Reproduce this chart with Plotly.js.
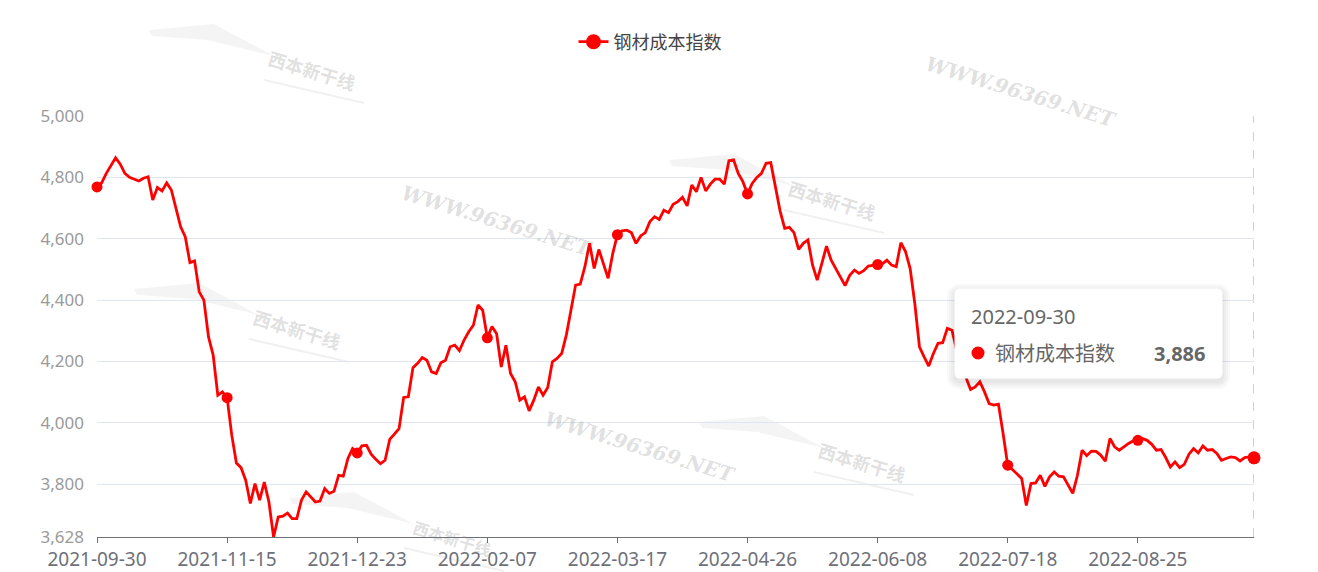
<!DOCTYPE html>
<html>
<head>
<meta charset="utf-8">
<script src="https://cdn.plot.ly/plotly-3.0.1.min.js"></script>
<style>
  html, body { margin: 0; padding: 0; background: #ffffff; }
  #chart { width: 1318px; height: 572px; }
</style>
</head>
<body>
<div id="chart"></div>
<script>
// ---- data ----
const seriesName = '钢材成本指数';
const tickLabels = ['2021-09-30', '2021-11-15', '2021-12-23', '2022-02-07', '2022-03-17',
                    '2022-04-26', '2022-06-08', '2022-07-18', '2022-08-25'];
const lastDate = '2022-09-30';
const values = [
  4769, 4782, 4813, 4837, 4864, 4843, 4813, 4800, 4795, 4788,
  4797, 4802, 4726, 4767, 4756, 4782, 4759, 4699, 4639, 4606,
  4522, 4528, 4427, 4400, 4280, 4221, 4090, 4101, 4082, 3960,
  3869, 3854, 3813, 3737, 3802, 3748, 3807, 3742, 3628, 3693,
  3696, 3706, 3688, 3688, 3748, 3775, 3757, 3742, 3745, 3786,
  3770, 3777, 3829, 3826, 3884, 3916, 3902, 3925, 3927, 3898,
  3881, 3867, 3878, 3946, 3963, 3981, 4083, 4085, 4180, 4194,
  4213, 4204, 4166, 4161, 4196, 4204, 4248, 4253, 4235, 4270,
  4297, 4318, 4384, 4367, 4277, 4314, 4290, 4182, 4253, 4161,
  4134, 4074, 4085, 4039, 4074, 4117, 4090, 4115, 4199, 4210,
  4226, 4286, 4367, 4449, 4452, 4509, 4585, 4503, 4565, 4520,
  4471, 4552, 4613, 4626, 4628, 4620, 4585, 4609, 4620, 4656,
  4672, 4663, 4693, 4685, 4712, 4721, 4735, 4707, 4775, 4753,
  4800, 4756, 4778, 4794, 4794, 4778, 4854, 4857, 4813, 4786,
  4746, 4780, 4800, 4813, 4846, 4848, 4769, 4691, 4634, 4637,
  4620, 4565, 4585, 4596, 4514, 4465, 4520, 4576, 4530, 4503,
  4476, 4447, 4481, 4498, 4487, 4496, 4511, 4514, 4516, 4518,
  4530, 4514, 4509, 4587, 4558, 4503, 4389, 4248, 4215, 4185,
  4226, 4259, 4261, 4308, 4302, 4237, 4188, 4150, 4109, 4117,
  4134, 4101, 4063, 4058, 4061, 3965, 3862, 3848, 3835, 3819,
  3731, 3802, 3804, 3829, 3793, 3824, 3840, 3826, 3824, 3797,
  3770, 3829, 3911, 3893, 3908, 3907, 3895, 3875, 3949, 3922,
  3911, 3922, 3933, 3941, 3943, 3949, 3943, 3930, 3911, 3913,
  3887, 3856, 3873, 3854, 3865, 3898, 3916, 3902, 3925, 3911,
  3913, 3900, 3878, 3884, 3889, 3887, 3876, 3887, 3889, 3886
];
const yTicks = [3628, 3800, 4000, 4200, 4400, 4600, 4800, 5000];

// ---- config ----
const labelStep = 28;          // one axis label (and one symbol) every 28 points
const RED = '#ff0000';
const FONT = '"Noto Sans", "Noto Sans CJK SC", sans-serif';
const W = 1318, H = 572;
const M = {l: 97, r: 64, t: 116, b: 35};
const plotW = W - M.l - M.r, plotH = H - M.t - M.b;
const px = v => (v - M.l) / plotW;          // pixel -> paper x
const py = v => (H - M.b - v) / plotH;      // pixel -> paper y

const n = values.length;
const xs = values.map((_, i) => i);
const markIdx = xs.filter(i => i % labelStep === 0);
const fmt = v => v.toLocaleString('en-US');

const traces = [
  { x: xs, y: values, type: 'scatter', mode: 'lines', showlegend: false,
    line: {color: RED, width: 2.8}, hoverinfo: 'skip', cliponaxis: false },
  { x: markIdx, y: markIdx.map(i => values[i]), type: 'scatter', mode: 'markers',
    showlegend: false, marker: {color: RED, size: 11}, hoverinfo: 'skip', cliponaxis: false },
  { x: [n - 1], y: [values[n - 1]], type: 'scatter', mode: 'markers',
    showlegend: false, marker: {color: RED, size: 13}, hoverinfo: 'skip', cliponaxis: false },
  { x: [null], y: [null], type: 'scatter', mode: 'lines+markers', name: seriesName,
    line: {color: RED, width: 2.8}, marker: {color: RED, size: 15} }
];

// tooltip box (pixel geometry -> paper)
function roundRect(x0, y0, x1, y1, r) {
  const X = px, Y = py;
  const k = 0.45;
  return `M${X(x0 + r)},${Y(y0)} L${X(x1 - r)},${Y(y0)} ` +
    `C${X(x1 - r * k)},${Y(y0)} ${X(x1)},${Y(y0 + r * k)} ${X(x1)},${Y(y0 + r)} ` +
    `L${X(x1)},${Y(y1 - r)} C${X(x1)},${Y(y1 - r * k)} ${X(x1 - r * k)},${Y(y1)} ${X(x1 - r)},${Y(y1)} ` +
    `L${X(x0 + r)},${Y(y1)} C${X(x0 + r * k)},${Y(y1)} ${X(x0)},${Y(y1 - r * k)} ${X(x0)},${Y(y1 - r)} ` +
    `L${X(x0)},${Y(y0 + r)} C${X(x0)},${Y(y0 + r * k)} ${X(x0 + r * k)},${Y(y0)} ${X(x0 + r)},${Y(y0)} Z`;
}
function poly(pts) {
  return 'M' + pts.map(([x, y]) => `${px(x)},${py(y)}`).join(' L') + ' Z';
}
const tip = {x0: 955, y0: 289, x1: 1222, y1: 378};
const shapes = [
  { type: 'line', xref: 'x', yref: 'paper', x0: n - 1, x1: n - 1, y0: 0, y1: 1,
    line: {color: '#a0a0a0', width: 1, dash: 'dash'}, layer: 'below' }
];

// watermark logos (swoosh + name) and site text
const wmColor = 'rgba(120,120,120,0.24)';
const annotations = [];
const logoCenters = [[312, 70, 18], [297, 329, 18], [832, 200, 18], [862, 462, 18], [452, 538, 16]];
logoCenters.forEach(([cx, cy, fs]) => {
  shapes.push({ type: 'path', xref: 'paper', yref: 'paper', layer: 'below',
    path: poly([[cx - 163, cy - 40], [cx - 98, cy - 46], [cx - 38, cy - 14], [cx - 105, cy - 30], [cx - 160, cy - 34]]),
    fillcolor: 'rgba(0,0,0,0.045)', line: {width: 0} });
  shapes.push({ type: 'line', xref: 'paper', yref: 'paper', layer: 'below',
    x0: px(cx - 48), y0: py(cy + 10), x1: px(cx + 52), y1: py(cy + 33),
    line: {color: 'rgba(0,0,0,0.06)', width: 2} });
  annotations.push({ xref: 'paper', yref: 'paper', x: px(cx), y: py(cy), xanchor: 'center', yanchor: 'middle',
    showarrow: false, text: '西本新干线', textangle: 17, borderpad: 0,
    font: {family: '"Noto Sans CJK SC", sans-serif', size: fs, color: wmColor, weight: 'bold'} });
});
[[1021, 92], [497, 221], [640, 447]].forEach(([x, y]) => {
  annotations.push({ xref: 'paper', yref: 'paper', x: px(x), y: py(y), xanchor: 'center', yanchor: 'middle',
    showarrow: false, text: 'WWW.96369.NET', textangle: 17,
    font: {family: '"DejaVu Serif", serif', size: 20, color: wmColor, style: 'italic', weight: 'bold'} });
});

// tooltip
[8, 6, 4, 2].forEach(e => {
  shapes.push({ type: 'path', xref: 'paper', yref: 'paper',
    path: roundRect(tip.x0 - e, tip.y0 - e + 3, tip.x1 + e, tip.y1 + e + 3, 4 + e),
    fillcolor: 'rgba(0,0,0,0.025)', line: {width: 0} });
});
shapes.push({ type: 'path', xref: 'paper', yref: 'paper',
  path: roundRect(tip.x0, tip.y0, tip.x1, tip.y1, 4),
  fillcolor: '#ffffff', line: {color: '#ffffff', width: 1} });
shapes.push({ type: 'circle', xref: 'paper', yref: 'paper',
  x0: px(971.5), x1: px(984.5), y0: py(359.5), y1: py(346.5),
  fillcolor: RED, line: {width: 0} });
annotations.push({ xref: 'paper', yref: 'paper', x: px(969), y: py(316), xanchor: 'left', yanchor: 'middle',
  showarrow: false, text: lastDate, font: {family: FONT, size: 20, color: '#666'} });
annotations.push({ xref: 'paper', yref: 'paper', x: px(993), y: py(353), xanchor: 'left', yanchor: 'middle',
  showarrow: false, text: seriesName, font: {family: FONT, size: 20, color: '#666'} });
annotations.push({ xref: 'paper', yref: 'paper', x: px(1207), y: py(353), xanchor: 'right', yanchor: 'middle',
  showarrow: false, text: '<b>' + fmt(values[n - 1]) + '</b>', font: {family: FONT, size: 20, color: '#666'} });

const layout = {
  width: W, height: H,
  margin: M,
  paper_bgcolor: '#ffffff', plot_bgcolor: '#ffffff',
  font: {family: FONT},
  showlegend: true,
  legend: { orientation: 'h', x: px(650), xanchor: 'center', y: py(42), yanchor: 'middle',
    font: {family: FONT, size: 18, color: '#444'}, bgcolor: 'rgba(0,0,0,0)' },
  xaxis: {
    range: [0, n - 1], tickmode: 'array',
    tickvals: tickLabels.map((_, k) => k * labelStep), ticktext: tickLabels,
    showgrid: false, zeroline: false, showline: true, linecolor: '#6E7079', linewidth: 1,
    ticks: 'outside', ticklen: 5, tickcolor: '#6E7079',
    tickfont: {family: FONT, size: 19, color: '#6E7079'}, fixedrange: true
  },
  yaxis: {
    range: [yTicks[0], yTicks[yTicks.length - 1]], tickmode: 'array',
    tickvals: yTicks, ticktext: yTicks.map(fmt),
    showgrid: true, gridcolor: '#E0E6F1', gridwidth: 1, zeroline: false, showline: false,
    ticks: '', ticklabelstandoff: 12,
    tickfont: {family: FONT, size: 17, color: '#9a9a9a'}, fixedrange: true
  },
  shapes: shapes,
  annotations: annotations
};

Plotly.newPlot('chart', traces, layout, {displayModeBar: false, staticPlot: true});
</script>
</body>
</html>
